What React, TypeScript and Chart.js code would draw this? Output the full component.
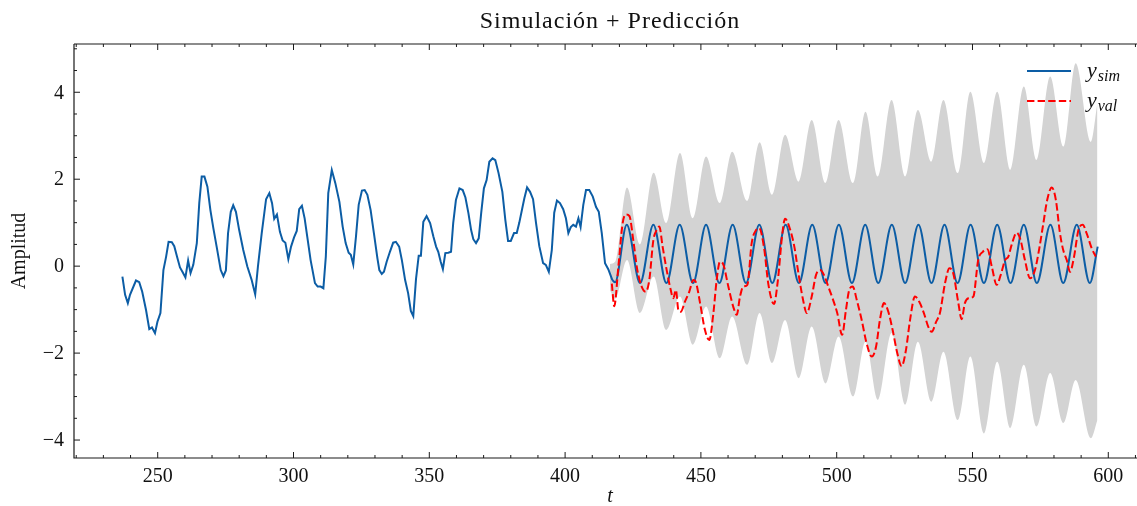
import React, { useEffect, useRef } from "react";
import { Chart, registerables } from "chart.js";
Chart.register(...registerables);

// ---- data ----
// simulated output, identification window (piecewise linear samples)
const simObsT = [
  237.0, 238.0, 239.0, 239.8, 242.0, 243.2, 244.3, 245.7, 246.9, 247.9, 249.0, 249.9, 251.0, 252.1, 253.1, 254.0,
  255.2, 256.1, 257.2, 258.2, 259.2, 260.2, 261.2, 262.1, 263.1, 264.4, 265.3, 266.2, 267.2, 268.3, 269.4, 270.5,
  271.7, 273.2, 274.2, 275.1, 275.9, 276.9, 277.8, 278.8, 280.0, 281.5, 283.0, 284.6, 285.9, 286.9, 288.3, 289.9,
  291.1, 292.1, 292.9, 293.9, 295.0, 296.0, 297.0, 298.1, 299.1, 300.2, 301.2, 302.1, 303.1, 304.1, 305.1, 306.3,
  307.9, 308.9, 310.0, 311.0, 311.9, 312.8, 314.1, 315.4, 316.9, 318.1, 319.2, 320.3, 321.1, 322.0, 323.0, 324.0,
  325.2, 326.2, 327.2, 328.4, 329.6, 330.9, 331.6, 332.5, 333.3, 334.3, 335.5, 336.7, 337.7, 338.9, 339.9, 341.1,
  342.2, 343.2, 344.1, 345.1, 346.1, 346.9, 347.8, 349.0, 350.3, 351.5, 352.5, 353.3, 354.2, 355.0, 355.9, 357.0,
  358.0, 358.8, 359.8, 361.1, 362.3, 363.3, 364.4, 365.4, 366.2, 367.2, 368.2, 369.1, 370.1, 371.1, 372.1, 373.3,
  374.3, 375.5, 376.9, 378.0, 379.0, 380.0, 381.2, 382.2, 383.1, 384.1, 385.0, 386.0, 387.1, 388.2, 389.3, 390.5,
  391.9, 392.9, 394.0, 395.1, 396.0, 397.0, 398.1, 399.3, 400.3, 401.2, 402.1, 403.0, 404.0, 404.9, 405.7, 406.7,
  407.7, 408.9, 410.2, 411.4, 412.4, 413.5, 414.7, 415.9, 417.4,
];
const simObsY = [
  -0.24, -0.66, -0.85, -0.66, -0.33, -0.37, -0.59, -1.01, -1.45, -1.41, -1.54, -1.28, -1.08, -0.09, 0.22, 0.56,
  0.55, 0.46, 0.2, -0.03, -0.14, -0.26, 0.13, -0.16, 0.03, 0.53, 1.45, 2.06, 2.06, 1.83, 1.29, 0.87,
  0.45, -0.09, -0.23, -0.1, 0.76, 1.25, 1.4, 1.25, 0.83, 0.37, -0.01, -0.32, -0.65, -0.01, 0.76, 1.54,
  1.68, 1.45, 1.09, 1.19, 0.79, 0.59, 0.54, 0.16, 0.45, 0.66, 0.81, 1.31, 1.39, 1.1, 0.66, 0.14,
  -0.39, -0.47, -0.47, -0.51, 0.22, 1.68, 2.21, 1.91, 1.48, 0.91, 0.53, 0.31, 0.26, 0.04, 0.68, 1.41,
  1.74, 1.75, 1.64, 1.29, 0.76, 0.18, -0.09, -0.18, -0.13, 0.1, 0.33, 0.54, 0.56, 0.45, 0.14, -0.32,
  -0.62, -1.03, -1.15, -0.3, 0.24, 0.24, 1.02, 1.15, 0.99, 0.68, 0.45, 0.33, 0.1, -0.07, 0.3, 0.31,
  0.33, 0.99, 1.52, 1.79, 1.75, 1.58, 1.22, 0.83, 0.62, 0.53, 0.64, 1.22, 1.79, 1.98, 2.4, 2.48,
  2.44, 2.14, 1.71, 1.06, 0.58, 0.58, 0.76, 0.76, 0.99, 1.29, 1.56, 1.81, 1.71, 1.54, 0.99, 0.46,
  0.07, 0.03, -0.13, 0.37, 1.23, 1.51, 1.45, 1.31, 1.1, 0.76, 0.9, 0.95, 0.91, 1.1, 0.9, 1.41,
  1.75, 1.75, 1.6, 1.36, 1.25, 0.76, 0.07, -0.07, -0.32,
];
// simulated output, prediction window (extremes of the oscillation)
const simPredT = [
  417.4, 418.4, 422.7, 427.6, 432.5, 437.3, 442.2, 447.1, 451.9, 456.8, 461.7, 466.6, 471.5, 476.3, 481.2, 486.1,
  491.0, 495.9, 500.8, 505.6, 510.5, 515.3, 520.3, 525.2, 530.1, 534.9, 539.7, 544.5, 549.3, 554.2, 559.1, 564.0,
  568.9, 573.7, 578.7, 583.4, 588.4, 593.2, 596.1,
];
const simPredY = [
  -0.32, -0.37, 0.95, -0.39, 0.95, -0.39, 0.95, -0.39, 0.95, -0.39, 0.95, -0.39, 0.95, -0.39, 0.95, -0.39,
  0.95, -0.39, 0.95, -0.39, 0.95, -0.39, 0.95, -0.39, 0.95, -0.39, 0.95, -0.39, 0.95, -0.39, 0.95, -0.39,
  0.95, -0.39, 0.95, -0.39, 0.95, -0.39, 0.45,
];

const valT = [
  417.2, 418.1, 419.6, 421.2, 422.4, 423.7, 425.1, 426.6, 428.2, 429.7, 431.0, 432.5, 433.7, 434.7, 435.9, 437.4,
  438.9, 439.8, 440.8, 441.7, 442.6, 444.1, 445.7, 447.2, 448.2, 449.7, 451.5, 453.1, 454.6, 455.8, 457.0, 458.3,
  460.1, 461.9, 463.2, 464.4, 465.6, 467.1, 468.7, 470.3, 471.5, 473.3, 474.8, 476.9, 478.3, 480.0, 481.0, 482.5,
  484.4, 485.9, 487.5, 489.0, 490.8, 492.4, 493.9, 495.3, 496.9, 498.7, 500.2, 502.0, 503.4, 504.6, 505.9, 507.4,
  509.2, 511.0, 512.9, 514.5, 515.9, 517.4, 519.0, 520.6, 522.3, 523.9, 525.5, 527.0, 528.8, 530.4, 532.1, 533.7,
  535.0, 536.6, 538.0, 539.9, 541.5, 542.9, 544.8, 546.0, 547.2, 548.5, 550.3, 552.1, 553.8, 555.5, 557.1, 558.9,
  560.4, 562.0, 563.2, 564.4, 566.3, 567.7, 569.3, 571.2, 573.0, 574.6, 576.1, 577.5, 579.2, 580.7, 582.2, 583.4,
  584.7, 585.9, 587.4, 589.0, 590.6, 592.0, 593.9, 595.4,
];
const valY = [
  -0.4, -0.92, -0.02, 0.99, 1.19, 1.15, 0.6, -0.09, -0.47, -0.59, -0.32, 0.6, 0.83, 0.91, 0.45, -0.09,
  -0.55, -0.74, -0.55, -1.01, -1.05, -0.82, -0.59, -0.32, -0.38, -0.85, -1.47, -1.7, -1.08, -0.32, 0.1, 0.03,
  -0.47, -0.93, -1.12, -0.7, -0.47, -0.43, 0.53, 0.83, 0.87, 0.4, -0.4, -0.87, -0.35, 0.76, 1.09, 0.91,
  0.45, -0.16, -0.74, -1.08, -0.7, -0.2, -0.09, -0.2, -0.47, -0.78, -1.08, -1.58, -1.01, -0.55, -0.47, -0.78,
  -1.24, -1.77, -2.08, -1.85, -1.24, -0.85, -1.05, -1.47, -2.0, -2.3, -1.93, -1.24, -0.7, -0.82, -1.08, -1.39,
  -1.51, -1.28, -1.08, -0.39, -0.05, -0.16, -0.85, -1.22, -0.85, -0.74, -0.7, 0.14, 0.33, 0.39, -0.01, -0.43,
  -0.2, 0.14, 0.22, 0.49, 0.77, 0.6, 0.14, -0.28, -0.09, 0.41, 0.99, 1.52, 1.81, 1.52, 0.76, 0.37,
  0.14, -0.13, 0.22, 0.83, 0.95, 0.76, 0.41, 0.22,
];

const bandT = [
  416.5, 418.4, 422.8, 427.5, 432.6, 437.2, 442.3, 447.0, 451.9, 456.9, 461.5, 467.0, 471.6, 476.2, 481.0, 486.0,
  490.8, 495.9, 500.7, 506.0, 510.6, 515.2, 520.2, 525.2, 529.9, 534.8, 539.3, 544.6, 549.2, 554.3, 559.1, 563.9,
  568.9, 573.6, 578.6, 583.4, 588.0, 593.6, 596.0,
];
const bandHi = [
  0.05, 0.1, 1.81, 0.5, 2.15, 0.99, 2.6, 1.1, 2.52, 1.45, 2.63, 1.5, 2.85, 1.64, 3.02, 1.94,
  3.36, 1.91, 3.36, 1.91, 3.55, 2.06, 3.82, 2.06, 3.59, 2.4, 3.82, 2.14, 4.01, 2.37, 4.01, 2.21,
  4.13, 2.44, 4.36, 2.75, 4.67, 2.86, 3.75,
];
const bandLo = [
  -0.55, -0.75, 0.14, -1.08, -0.24, -1.47, -0.7, -1.81, -0.93, -2.12, -1.16, -2.27, -1.08, -2.23, -1.24, -2.58,
  -1.39, -2.7, -1.62, -3.0, -1.74, -3.08, -1.54, -3.19, -1.74, -3.12, -1.97, -3.54, -2.08, -3.85, -2.2, -3.73,
  -2.27, -3.69, -2.46, -3.61, -2.62, -3.96, -3.54,
];

const xTicks = [250, 300, 350, 400, 450, 500, 550, 600];
const yTicks = [-4, -2, 0, 2, 4];
const titleText = "Simulación + Predicción";
const xLabelText = "t";
const yLabelText = "Amplitud";
const legendBase = ["y", "y"];
const legendSub = ["sim", "val"];

const BLUE = "#0C5DA5";
const RED = "#FF0000";
const GRAY = "#D3D3D3";
const FONT = '"Liberation Serif", "Times New Roman", serif';

const pts = (xs: number[], ys: number[]) => xs.map((x, i) => ({ x, y: ys[i] }));

const decor = {
  id: "decor",
  afterDraw(chart: any) {
    const { ctx, chartArea: a, scales } = chart;
    const xs = scales.x;
    const ys = scales.y;
    ctx.save();
    ctx.strokeStyle = "#1a1a1a";
    ctx.lineWidth = 1.2;
    ctx.beginPath();
    ctx.moveTo(a.left, a.top);
    ctx.lineTo(a.right + 2, a.top);
    ctx.moveTo(a.left, a.top);
    ctx.lineTo(a.left, a.bottom);
    ctx.lineTo(a.right + 2, a.bottom);
    ctx.stroke();

    ctx.lineWidth = 1;
    ctx.beginPath();
    for (let v = 220; v <= 610; v += 10) {
      const px = xs.getPixelForValue(v);
      if (px < a.left + 1 || px > a.right) continue;
      const len = v % 50 === 0 ? 6 : 3;
      ctx.moveTo(px, a.bottom);
      ctx.lineTo(px, a.bottom - len);
      ctx.moveTo(px, a.top);
      ctx.lineTo(px, a.top + len);
    }
    for (let k = -9; k <= 10; k++) {
      const v = k * 0.5;
      const py = ys.getPixelForValue(v);
      if (py < a.top + 1 || py > a.bottom - 1) continue;
      const len = k % 4 === 0 ? 6 : 3;
      ctx.moveTo(a.left, py);
      ctx.lineTo(a.left + len, py);
    }
    ctx.stroke();

    ctx.fillStyle = "#111";
    ctx.font = `20px ${FONT}`;
    ctx.textAlign = "center";
    ctx.textBaseline = "alphabetic";
    xTicks.forEach((v) => ctx.fillText(String(v), xs.getPixelForValue(v), 482));
    ctx.textAlign = "right";
    ctx.textBaseline = "middle";
    yTicks.forEach((v) => {
      const s = v < 0 ? "\u2212" + Math.abs(v) : String(v);
      ctx.fillText(s, a.left - 10, ys.getPixelForValue(v) + 1);
    });

    // axis labels
    ctx.textAlign = "center";
    ctx.save();
    ctx.translate(20, (a.top + a.bottom) / 2);
    ctx.rotate(-Math.PI / 2);
    ctx.fillText(yLabelText, 0, 0);
    ctx.restore();
    ctx.font = `italic 20px ${FONT}`;
    ctx.fillText(xLabelText, 610, 497);

    // title
    ctx.font = `24px ${FONT}`;
    (ctx as any).letterSpacing = "1px";
    ctx.fillText(titleText, 610, 22);
    (ctx as any).letterSpacing = "0px";

    // legend
    const rows = [
      { y: 71, color: BLUE, dash: [] as number[] },
      { y: 101, color: RED, dash: [7.4, 3.2] },
    ];
    rows.forEach((r, i) => {
      ctx.strokeStyle = r.color;
      ctx.lineWidth = 2;
      ctx.setLineDash(r.dash);
      ctx.beginPath();
      ctx.moveTo(1027, r.y);
      ctx.lineTo(1071, r.y);
      ctx.stroke();
      ctx.setLineDash([]);
      ctx.textAlign = "left";
      ctx.textBaseline = "alphabetic";
      ctx.font = `italic 22px ${FONT}`;
      ctx.fillText(legendBase[i], 1087, r.y + 6);
      const w = ctx.measureText(legendBase[i]).width;
      ctx.font = `italic 16px ${FONT}`;
      ctx.fillText(legendSub[i], 1087 + w + 1, r.y + 10);
    });
    ctx.restore();
  },
};

export default function App() {
  const ref = useRef<HTMLCanvasElement>(null);
  useEffect(() => {
    const canvas = ref.current;
    if (!canvas) return;
    const chart = new Chart(canvas, {
      type: "line",
      data: {
        datasets: [
          {
            label: "y_val",
            data: pts(valT, valY),
            borderColor: RED,
            borderWidth: 2,
            borderDash: [7.4, 3.2],
            pointRadius: 0,
            fill: false,
            cubicInterpolationMode: "monotone",
            order: 0,
          },
          {
            label: "y_sim",
            data: pts(simObsT, simObsY),
            borderColor: BLUE,
            borderWidth: 2,
            pointRadius: 0,
            fill: false,
            tension: 0,
            order: 1,
          },
          {
            label: "y_sim_pred",
            data: pts(simPredT, simPredY),
            borderColor: BLUE,
            borderWidth: 2,
            pointRadius: 0,
            fill: false,
            cubicInterpolationMode: "monotone",
            order: 1,
          },
          {
            label: "upper",
            data: pts(bandT, bandHi),
            borderColor: "rgba(0,0,0,0)",
            borderWidth: 1,
            backgroundColor: GRAY,
            pointRadius: 0,
            fill: 4,
            cubicInterpolationMode: "monotone",
            order: 2,
          },
          {
            label: "lower",
            data: pts(bandT, bandLo),
            borderColor: "rgba(0,0,0,0)",
            borderWidth: 1,
            pointRadius: 0,
            fill: false,
            cubicInterpolationMode: "monotone",
            order: 3,
          },
        ],
      },
      options: {
        animation: false,
        responsive: false,
        devicePixelRatio: 1,
        layout: { padding: { left: 74, right: 0, top: 44, bottom: 48 } },
        plugins: { legend: { display: false }, title: { display: false }, tooltip: { enabled: false } },
        events: [],
        scales: {
          x: { type: "linear", min: 219.18, max: 610.57, display: false },
          y: { type: "linear", min: -4.413, max: 5.11, display: false },
        },
      },
      plugins: [decor],
    } as any);
    return () => chart.destroy();
  }, []);
  return (
    <div style={{ position: "fixed", left: 0, top: 0, width: 1137, height: 506, background: "#fff" }}>
      <canvas ref={ref} width={1137} height={506} style={{ display: "block" }} />
    </div>
  );
}
